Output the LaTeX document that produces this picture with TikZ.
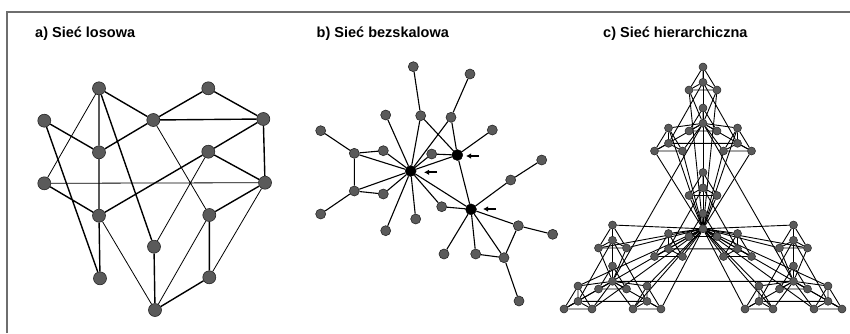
\documentclass[tikz,border=0pt]{standalone}
\usepackage{fontspec}
\setmainfont{Liberation Sans}
\usetikzlibrary{arrows.meta}
\pgfdeclarelayer{bg}
\pgfsetlayers{bg,main}
\definecolor{nodegray}{HTML}{5A5A5A}
\definecolor{framegray}{HTML}{6E6E6E}
\begin{document}
\begin{tikzpicture}[x=1pt,y=-1pt,
  title/.style={anchor=base west,inner sep=0pt,font=\fontsize{14.5}{17}\selectfont\bfseries},
  an/.style={circle,draw=black!85,line width=0.6pt,fill=nodegray,minimum size=13pt,inner sep=0pt},
  bn/.style={circle,draw=black!85,line width=0.6pt,fill=nodegray,minimum size=10pt,inner sep=0pt},
  hub/.style={circle,draw=black,fill=black,minimum size=11pt,inner sep=0pt},
  hn/.style={circle,draw=black!85,line width=0.5pt,fill=nodegray,minimum size=8pt,inner sep=0pt},
  thick edge/.style={line width=1.4pt},
  thin edge/.style={line width=0.8pt},
  bedge/.style={line width=1.1pt},
  cedge/.style={line width=0.9pt},
  pointer/.style={line width=1.8pt,-{Latex[length=5pt,width=5.5pt]}}
]
\useasboundingbox (0,0) rectangle (850,333);
% frame
\coordinate (ftl) at (7,12);
\coordinate (ftr) at (850,12);
\coordinate (fbl) at (7,333);
\draw[framegray,line width=2pt] (fbl) -- (ftl) -- (ftr);

% titles
\node[title] (ta) at (35,37) {a) Sieć losowa};
\node[title] (tb) at (316.5,37) {b) Sieć bezskalowa};
\node[title] (tc) at (603,37) {c) Sieć hierarchiczna};

% ---------- panel a ----------
\node[an] (a1) at (99,88.3) {};
\node[an] (a2) at (208.3,88.3) {};
\node[an] (a3) at (44.3,120.7) {};
\node[an] (a4) at (153.3,120) {};
\node[an] (a5) at (263.3,119) {};
\node[an] (a6) at (99,152.3) {};
\node[an] (a7) at (208.3,151.7) {};
\node[an] (a8) at (44.3,183.3) {};
\node[an] (a9) at (265,182.7) {};
\node[an] (a10) at (99,215.7) {};
\node[an] (a11) at (209.3,215) {};
\node[an] (a12) at (154,246.7) {};
\node[an] (a13) at (100,278.3) {};
\node[an] (a14) at (209.3,277.3) {};
\node[an] (a15) at (155,310) {};
\begin{pgfonlayer}{bg}
\draw[thick edge] (a1)--(a4) (a1)--(a6) (a1)--(a12) (a2)--(a4) (a2)--(a5)
  (a3)--(a6) (a3)--(a13) (a4)--(a6) (a4)--(a5) (a5)--(a7) (a5)--(a9)
  (a7)--(a9) (a7)--(a10) (a8)--(a10) (a6)--(a10) (a10)--(a13) (a12)--(a15)
  (a11)--(a9) (a11)--(a14) (a14)--(a15);
\draw[thin edge] (a1)--(a8) (a4)--(a11) (a7)--(a12) (a8)--(a9) (a10)--(a15)
  (a11)--(a15) (a9)--(a14);
\end{pgfonlayer}

% ---------- panel b ----------
\node[hub] (h1) at (410.7,171) {};
\node[hub] (h2) at (457.3,155) {};
\node[hub] (h3) at (471,209.3) {};
\node[bn] (b1) at (413.3,66.7) {};
\node[bn] (b2) at (470,74) {};
\node[bn] (b3) at (385.7,115) {};
\node[bn] (b4) at (420.7,115.7) {};
\node[bn] (b5) at (451,117.3) {};
\node[bn] (b6) at (492.3,130) {};
\node[bn] (b7) at (320.7,130.7) {};
\node[bn] (b8) at (354.3,153.3) {};
\node[bn] (b9) at (383.3,150.7) {};
\node[bn] (b10) at (431.7,154) {};
\node[bn] (b11) at (541.7,160) {};
\node[bn] (b12) at (510.7,180) {};
\node[bn] (b13) at (354.3,191) {};
\node[bn] (b14) at (383.3,194) {};
\node[bn] (b15) at (320.7,214) {};
\node[bn] (b16) at (441.7,206.7) {};
\node[bn] (b17) at (415.7,219) {};
\node[bn] (b18) at (385.7,230.7) {};
\node[bn] (b19) at (518.3,225.7) {};
\node[bn] (b20) at (552.7,234.3) {};
\node[bn] (b21) at (444,254) {};
\node[bn] (b22) at (475.7,254) {};
\node[bn] (b23) at (504,257.7) {};
\node[bn] (b24) at (519,301) {};
\begin{pgfonlayer}{bg}
\draw[bedge] (b1)--(b4) (b4)--(h1) (b4)--(h2) (b2)--(b5) (b5)--(h1) (b5)--(h2)
  (b3)--(h1) (b6)--(h2) (b7)--(b8) (b8)--(b9) (b8)--(h1) (b8)--(b13) (b9)--(h1)
  (b13)--(b14) (b13)--(h1) (b13)--(b15) (b14)--(h1) (b10)--(h2) (b10)--(h1)
  (h1)--(h2) (h1)--(h3) (h1)--(b16) (b16)--(h3) (h1)--(b17) (h1)--(b18)
  (h2)--(h3) (b11)--(b12) (b12)--(h3) (h3)--(b19) (b19)--(b20) (b19)--(b23)
  (h3)--(b21) (h3)--(b22) (h3)--(b23) (b22)--(b23) (b23)--(b24);
\end{pgfonlayer}
\coordinate (p1s) at (437,172.3); \coordinate (p1e) at (424,172.3);
\coordinate (p2s) at (479,156); \coordinate (p2e) at (466,156);
\coordinate (p3s) at (496,209); \coordinate (p3e) at (483,209);
\draw[pointer] (p1s) -- (p1e);
\draw[pointer] (p2s) -- (p2e);
\draw[pointer] (p3s) -- (p3e);

% ---------- panel c ----------
\foreach \a/\ax/\ay in {T/0/0,C/0/105.5,L/-90.5/158,R/90.5/158}{
  \foreach \b/\bx/\by in {T/0/0,C/0/41,L/-34.5/61,R/34.5/61}{
    \foreach \c/\cx/\cy in {T/0/0,C/0/15.3,L/-14/23,R/14/23}{
      \node[hn] (h\a\b\c) at ({703+\ax+\bx+\cx},{67+\ay+\by+\cy}) {};
    }
  }
}
\begin{pgfonlayer}{bg}
\foreach \a in {T,C,L,R}{
  \foreach \b in {T,C,L,R}{
    \draw[cedge] (h\a\b T)--(h\a\b C) (h\a\b T)--(h\a\b L) (h\a\b T)--(h\a\b R)
      (h\a\b C)--(h\a\b L) (h\a\b C)--(h\a\b R) (h\a\b L)--(h\a\b R);
  }
  \foreach \b in {T,L,R}{
    \foreach \c in {T,L,R}{
      \draw[cedge] (h\a CC)--(h\a\b\c);
    }
  }
  \draw[cedge] (h\a TC)--(h\a LC) (h\a LC)--(h\a RC) (h\a RC)--(h\a TC);
}
\foreach \a in {T,L,R}{
  \foreach \b in {T,L,R}{
    \foreach \c in {T,L,R}{
      \draw[cedge] (hCCC)--(h\a\b\c);
    }
  }
}
\draw[cedge] (hTCC)--(hLCC) (hLCC)--(hRCC) (hRCC)--(hTCC);
\end{pgfonlayer}
\end{tikzpicture}
\end{document}
